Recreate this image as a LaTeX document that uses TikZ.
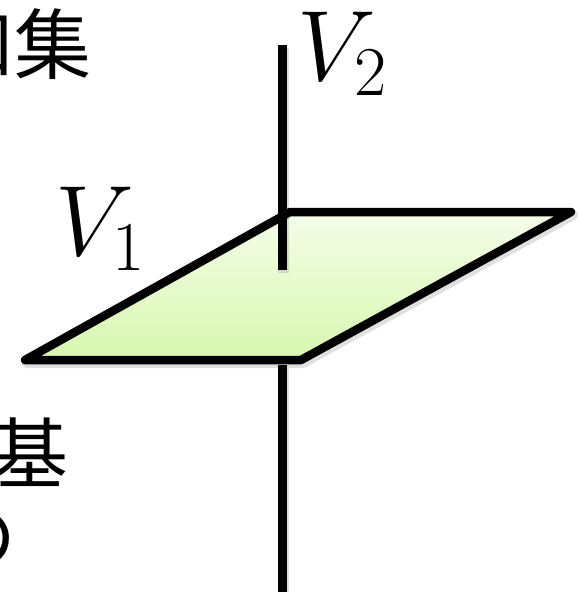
\RequirePackage{fix-cm}
\documentclass[tikz,border=0pt]{standalone}
\usepackage{fontspec}
\newfontfamily\cjk{Noto Sans CJK JP}
\definecolor{planetop}{HTML}{F4FDE9}
\definecolor{planebot}{HTML}{D8F7B0}
\begin{document}
\begin{tikzpicture}[x=1pt,y=-1pt,
  axisline/.style={line width=9pt,line cap=butt},
  shadowline/.style={line width=11pt,line cap=butt,draw=black,opacity=0.12},
  plane/.style={line width=8.5pt,line join=round,top color=planetop,bottom color=planebot,draw=black},
  planeshadow/.style={line width=10pt,line join=round,draw=black,fill=black,opacity=0.12},
  cjktext/.style={font=\cjk\fontsize{77}{77}\selectfont,inner sep=0pt,anchor=base east},
  vlabel/.style={font=\fontsize{100}{100}\selectfont,inner sep=0pt,anchor=base west}]
\useasboundingbox (0,0) rectangle (580,592);
\clip (0,0) rectangle (580,592);
% plane corners
\coordinate (p1) at (25,360);
\coordinate (p2) at (301,360);
\coordinate (p3) at (571,212);
\coordinate (p4) at (290,212);
% axis points
\coordinate (atop) at (282,45);
\coordinate (amid1) at (282,270);
\coordinate (amid2) at (282,365);
\coordinate (abot) at (282,592);
\draw[shadowline,transform canvas={shift={(1.5pt,-2.5pt)}}] (amid2) -- (abot);
\draw[axisline] (amid2) -- (abot);
\path[planeshadow,transform canvas={shift={(2pt,-3pt)}}] (p1) -- (p2) -- (p3) -- (p4) -- cycle;
\path[plane] (p1) -- (p2) -- (p3) -- (p4) -- cycle;
\draw[shadowline,transform canvas={shift={(1.5pt,-2.5pt)}}] (atop) -- (amid1);
\draw[axisline] (atop) -- (amid1);
\node[vlabel] (v2) at (297,80) {$V_2$};
\node[vlabel] (v1) at (55,255) {$V_1$};
\node[cjktext] (t1) at (92,73) {和集};
\node[cjktext] (t2) at (69,482) {基};
\node[cjktext] (t3) at (17,565) {の};
\end{tikzpicture}
\end{document}
